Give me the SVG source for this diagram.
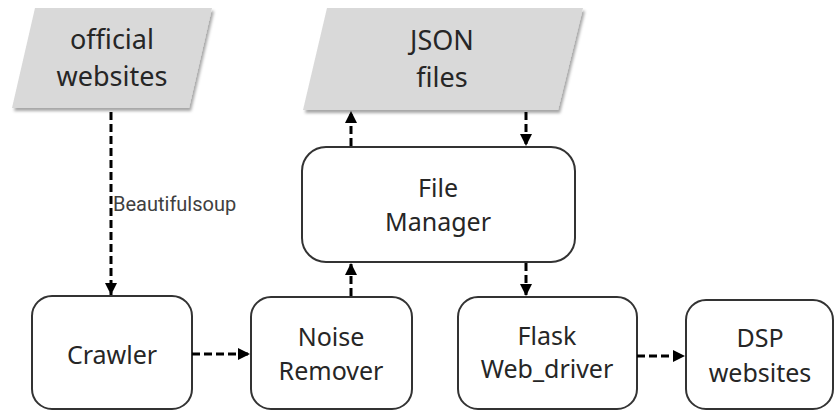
<svg xmlns="http://www.w3.org/2000/svg" width="836" height="412" viewBox="0 0 836 412">
  <defs>
    <filter id="shadow" x="-10%" y="-10%" width="125%" height="130%">
      <feDropShadow dx="2" dy="3" stdDeviation="1.5" flood-color="#000" flood-opacity="0.35"/>
    </filter>
    <marker id="arrow" viewBox="0 0 10 10" refX="10" refY="5" markerWidth="4" markerHeight="4" orient="auto" markerUnits="strokeWidth">
      <path d="M0,0 L10,5 L0,10 z" fill="#000"/>
    </marker>
  </defs>
  <style>
    .data { fill: #d9d9d9; stroke: none; filter: url(#shadow); }
    .box { fill: #fff; stroke: #333; stroke-width: 2; }
    .lbl { font-family: "Noto Sans", "Open Sans", sans-serif; fill: #262626; text-anchor: middle; }
    .big { font-size: 27px; }
    .mid { font-size: 25px; }
    .edge { fill: none; stroke: #000; stroke-width: 3; stroke-dasharray: 8 4; marker-end: url(#arrow); }
    .note { font-family: Roboto, "Noto Sans", sans-serif; font-size: 20px; fill: #404040; }
  </style>

  <rect width="836" height="412" fill="#fff"/>

  <g id="official-websites">
    <polygon class="data" points="35,8 212,8 189,108 12,108"/>
    <text class="lbl big" x="112" y="49">official</text>
    <text class="lbl big" x="112" y="86">websites</text>
  </g>

  <g id="json-files">
    <polygon class="data" points="327,8 583,8 558,110 303,110"/>
    <text class="lbl big" x="442" y="50">JSON</text>
    <text class="lbl big" x="442" y="87">files</text>
  </g>

  <g id="file-manager">
    <rect class="box" x="302" y="147" width="273" height="115" rx="24"/>
    <text class="lbl mid" x="438" y="197">File</text>
    <text class="lbl mid" x="438" y="231">Manager</text>
  </g>

  <g id="crawler">
    <rect class="box" x="32" y="296" width="160" height="113" rx="20"/>
    <text class="lbl mid" x="112" y="364">Crawler</text>
  </g>

  <g id="noise-remover">
    <rect class="box" x="251" y="297" width="161" height="112" rx="20"/>
    <text class="lbl mid" x="331" y="346">Noise</text>
    <text class="lbl mid" x="331" y="380">Remover</text>
  </g>

  <g id="flask-web-driver">
    <rect class="box" x="458" y="297" width="179" height="112" rx="20"/>
    <text class="lbl mid" x="547" y="345">Flask</text>
    <text class="lbl mid" x="547" y="378">Web_driver</text>
  </g>

  <g id="dsp-websites">
    <rect class="box" x="686" y="300" width="147" height="109" rx="20"/>
    <text class="lbl mid" x="760" y="347">DSP</text>
    <text class="lbl mid" x="760" y="382">websites</text>
  </g>

  <g id="connectors">
    <line class="edge" x1="111" y1="112" x2="111" y2="295"/>
    <line class="edge" x1="192" y1="354" x2="250" y2="354"/>
    <line class="edge" x1="351" y1="296" x2="351" y2="263"/>
    <line class="edge" x1="351" y1="146" x2="351" y2="111"/>
    <line class="edge" x1="526" y1="112" x2="526" y2="146"/>
    <line class="edge" x1="526" y1="263" x2="526" y2="296"/>
    <line class="edge" x1="637" y1="356" x2="685" y2="356"/>
    <text class="note" x="113" y="211">Beautifulsoup</text>
  </g>
</svg>
